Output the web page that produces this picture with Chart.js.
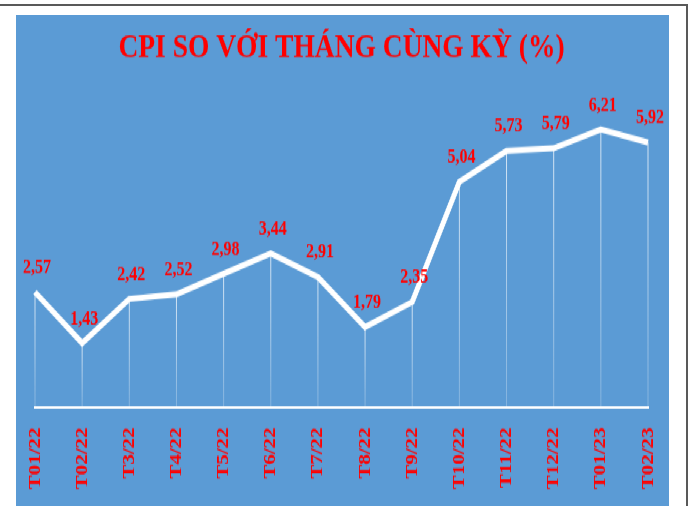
<!DOCTYPE html>
<html>
<head>
<meta charset="utf-8">
<script src="https://cdn.jsdelivr.net/npm/chart.js@4"></script>
<style>
  body { margin: 0; background: #fff; }
  #frame { position: absolute; left: 0; top: 4px; width: 686px; height: 504px;
           border-top: 2px solid #595959; border-right: 2px solid #595959; }
  /* the source picture is stretched vertically, so the chart is too */
  #wrap { position: absolute; left: 16px; top: 15px; width: 653px; height: 409.2px;
          background: #5B9BD5; transform: scaleY(1.2); transform-origin: 0 0; }
</style>
</head>
<body>
<div id="frame"></div>
<div id="wrap"><canvas id="cpiChart"></canvas></div>
<script>
const months = ['T01/22', 'T02/22', 'T3/22', 'T4/22', 'T5/22', 'T6/22', 'T7/22',
                'T8/22', 'T9/22', 'T10/22', 'T11/22', 'T12/22', 'T01/23', 'T02/23'];
const cpi = [2.57, 1.43, 2.42, 2.52, 2.98, 3.44, 2.91, 1.79, 2.35, 5.04, 5.73, 5.79, 6.21, 5.92];
const titleText = 'CPI SO VỚI THÁNG CÙNG KỲ (%)';

const serif = "'Liberation Serif', 'Times New Roman', serif";

// thin white drop lines from each point down to the axis
const dropLines = {
  id: 'dropLines',
  beforeDatasetsDraw(chart) {
    const ctx = chart.ctx;
    const bottom = chart.chartArea.bottom;
    chart.getDatasetMeta(0).data.forEach(pt => {
      const grad = ctx.createLinearGradient(0, pt.y, 0, bottom);
      grad.addColorStop(0, 'rgba(255,255,255,0.75)');
      grad.addColorStop(1, 'rgba(255,255,255,0.25)');
      ctx.save();
      ctx.strokeStyle = grad;
      ctx.lineWidth = 1;
      ctx.beginPath();
      ctx.moveTo(pt.x, pt.y);
      ctx.lineTo(pt.x, bottom);
      ctx.stroke();
      ctx.restore();
    });
  }
};

// red value labels above the points
const valueLabels = {
  id: 'valueLabels',
  afterDatasetsDraw(chart) {
    const ctx = chart.ctx;
    ctx.save();
    ctx.fillStyle = '#FF0000';
    ctx.font = "bold 16px " + serif;
    ctx.textAlign = 'center';
    ctx.textBaseline = 'middle';
    chart.getDatasetMeta(0).data.forEach((pt, i) => {
      ctx.fillText(cpi[i].toFixed(2).replace('.', ','), pt.x + 2, pt.y - 20);
    });
    ctx.restore();
  }
};

new Chart(document.getElementById('cpiChart'), {
  type: 'line',
  data: {
    labels: months,
    datasets: [{
      data: cpi,
      borderColor: '#FFFFFF',
      borderWidth: 5,
      pointRadius: 0,
      tension: 0
    }]
  },
  options: {
    responsive: true,
    maintainAspectRatio: false,
    animation: false,
    layout: { padding: { left: 19, right: 21, top: 0, bottom: 0 } },
    scales: {
      x: {
        offset: false,
        grid: { display: false, drawTicks: false },
        border: { display: true, color: '#FFFFFF', width: 2 },
        ticks: {
          color: '#FF0000',
          font: { family: serif, size: 17.5, weight: 'bold' },
          minRotation: 90,
          maxRotation: 90,
          padding: 17,
          autoSkip: false
        },
        afterFit(scale) {
          scale.height = 82.5;
          scale.paddingLeft = 0;
          scale.paddingRight = 0;
        }
      },
      y: {
        display: false,
        min: 0,
        max: 7
      }
    },
    plugins: {
      legend: { display: false },
      tooltip: { enabled: false },
      title: {
        display: true,
        text: titleText,
        color: '#FF0000',
        font: { family: serif, size: 27.5, weight: 'bold' },
        padding: { top: 11, bottom: 22 }
      }
    }
  },
  plugins: [dropLines, valueLabels]
});
</script>
</body>
</html>
